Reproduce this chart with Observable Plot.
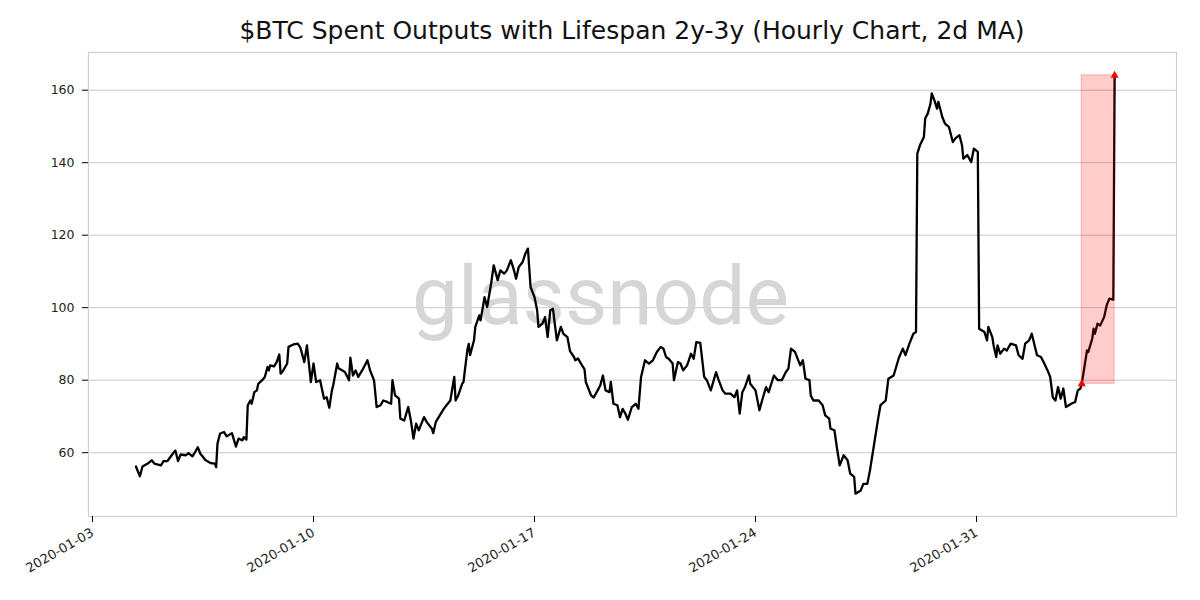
<!DOCTYPE html>
<html><head><meta charset="utf-8">
<script src="https://cdn.jsdelivr.net/npm/d3@7"></script>
<script src="https://cdn.jsdelivr.net/npm/@observablehq/plot@0.6"></script>
<style>
body{margin:0;background:#fff;width:1200px;height:600px;overflow:hidden;font-family:"DejaVu Sans",sans-serif}
#title{position:absolute;top:0;left:0;width:1200px;height:44px;box-sizing:border-box;padding-left:64px;padding-top:16px;text-align:center;font-size:25px;line-height:normal;color:#111;white-space:nowrap}
#chart{position:absolute;top:44px;left:0}
</style></head>
<body>
<div id="title">$BTC Spent Outputs with Lifespan 2y-3y (Hourly Chart, 2d MA)</div>
<div id="chart"></div>
<script>
const times = [
"01-04 09","01-04 12","01-04 14","01-04 18","01-04 21","01-04 23","01-05 04","01-05 06","01-05 09","01-05 13",
"01-05 15","01-05 17","01-05 19","01-05 23","01-06 01","01-06 04","01-06 06","01-06 08","01-06 10","01-06 14",
"01-06 18","01-06 21","01-06 22","01-06 23","01-07 01","01-07 04","01-07 06","01-07 10","01-07 13","01-07 15",
"01-07 18","01-07 19","01-07 21","01-07 22","01-08 00","01-08 01","01-08 03","01-08 05","01-08 06","01-08 09",
"01-08 11","01-08 13","01-08 14","01-08 15","01-08 18","01-08 20","01-08 22","01-08 23","01-09 01","01-09 04",
"01-09 05","01-09 09","01-09 12","01-09 14","01-09 17","01-09 19","01-09 22","01-10 00","01-10 02","01-10 05",
"01-10 08","01-10 10","01-10 12","01-10 14","01-10 15","01-10 18","01-10 19","01-10 22","01-11 00","01-11 03",
"01-11 04","01-11 06","01-11 08","01-11 10","01-11 13","01-11 17","01-11 19","01-11 22","01-12 00","01-12 03",
"01-12 05","01-12 08","01-12 11","01-12 12","01-12 14","01-12 17","01-12 18","01-12 21","01-13 00","01-13 02",
"01-13 04","01-13 06","01-13 08","01-13 11","01-13 12","01-13 14","01-13 18","01-13 19","01-13 21","01-14 00",
"01-14 03","01-14 06","01-14 08","01-14 11","01-14 12","01-14 14","01-14 17","01-14 18","01-14 21","01-14 22",
"01-14 23","01-15 02","01-15 03","01-15 06","01-15 07","01-15 10","01-15 12","01-15 15","01-15 17","01-15 20",
"01-15 22","01-16 01","01-16 03","01-16 06","01-16 08","01-16 10","01-16 12","01-16 15","01-16 17","01-16 19",
"01-16 21","01-17 00","01-17 02","01-17 03","01-17 06","01-17 08","01-17 10","01-17 12","01-17 14","01-17 17",
"01-17 20","01-17 22","01-18 01","01-18 03","01-18 06","01-18 07","01-18 09","01-18 11","01-18 14","01-18 15",
"01-18 19","01-18 21","01-19 00","01-19 02","01-19 04","01-19 06","01-19 09","01-19 10","01-19 12","01-19 15",
"01-19 17","01-19 19","01-19 21","01-19 23","01-20 02","01-20 05","01-20 07","01-20 09","01-20 12","01-20 15",
"01-20 18","01-20 21","01-21 00","01-21 02","01-21 04","01-21 06","01-21 09","01-21 10","01-21 13","01-21 15",
"01-21 17","01-21 20","01-21 23","01-22 01","01-22 03","01-22 06","01-22 09","01-22 11","01-22 14","01-22 18",
"01-22 20","01-22 23","01-23 01","01-23 05","01-23 08","01-23 10","01-23 12","01-23 14","01-23 16","01-23 19",
"01-23 20","01-24 00","01-24 03","01-24 05","01-24 08","01-24 10","01-24 14","01-24 17","01-24 20","01-24 23",
"01-25 01","01-25 03","01-25 06","01-25 10","01-25 12","01-25 14","01-25 17","01-25 18","01-25 20","01-26 00",
"01-26 03","01-26 05","01-26 08","01-26 09","01-26 12","01-26 14","01-26 16","01-26 19","01-26 22","01-27 00",
"01-27 03","01-27 04","01-27 08","01-27 10","01-27 13","01-27 15","01-27 18","01-27 21","01-27 23","01-28 03",
"01-28 05","01-28 09","01-28 13","01-28 16","01-28 18","01-28 21","01-29 00","01-29 02","01-29 03","01-29 05",
"01-29 08","01-29 09","01-29 11","01-29 13","01-29 14","01-29 16","01-29 18","01-29 19","01-29 22","01-30 00",
"01-30 03","01-30 06","01-30 08","01-30 11","01-30 13","01-30 14","01-30 17","01-30 20","01-30 22","01-31 01",
"01-31 02","01-31 06","01-31 08","01-31 09","01-31 12","01-31 13","01-31 15","01-31 16","01-31 18","01-31 21",
"01-31 23","02-01 02","02-01 06","02-01 08","02-01 11","02-01 13","02-01 16","02-01 18","02-01 22","02-02 01",
"02-02 03","02-02 06","02-02 08","02-02 10","02-02 12","02-02 14","02-02 16","02-02 18","02-02 20","02-03 00",
"02-03 03","02-03 05","02-03 07","02-03 08","02-03 12","02-03 13","02-03 16","02-03 17","02-03 18","02-03 20",
"02-03 22","02-04 01","02-04 03","02-04 05","02-04 08","02-04 09"
];
const values = [
56.2,53.5,56.2,57.0,57.9,57.0,56.5,57.7,57.7,59.7,
60.6,57.7,59.5,59.3,59.9,59.0,60.2,61.5,59.7,57.9,
57.1,57.0,56.0,62.5,65.3,65.7,64.5,65.4,61.7,63.9,
63.4,64.3,63.6,73.1,74.4,73.5,76.7,77.2,79.0,80.0,
80.9,83.6,82.7,84.1,83.8,85.0,87.1,81.8,82.7,84.6,
89.2,89.9,90.1,89.0,85.0,89.6,79.5,84.6,79.5,80.0,
74.9,75.3,72.4,77.2,78.6,84.6,83.3,82.7,82.2,80.0,
86.2,81.3,82.7,80.9,82.7,85.5,82.7,80.0,72.6,73.1,
74.4,74.0,73.5,80.0,75.8,74.9,69.4,68.9,72.6,68.9,
63.9,68.0,66.2,68.9,69.8,68.5,66.6,65.4,68.5,70.3,
72.1,73.5,74.4,80.9,74.4,75.8,79.0,79.5,88.5,90.0,
86.9,91.0,94.7,97.9,96.5,102.9,100.2,106.6,111.7,107.6,
110.3,109.4,110.3,113.1,110.8,108.0,111.2,112.6,114.9,116.3,
105.7,102.9,99.3,94.7,95.6,97.4,91.9,99.3,99.7,91.0,
94.7,92.8,91.9,88.0,86.4,85.5,86.0,84.8,83.0,79.5,
75.8,75.2,77.2,78.6,81.3,77.2,76.7,79.5,73.5,73.1,
69.8,72.1,70.8,69.1,72.6,73.5,72.1,80.9,85.5,84.6,
85.5,87.8,89.2,88.7,86.4,85.9,84.6,80.0,85.0,84.6,
82.7,84.1,87.3,85.9,90.5,90.3,80.9,80.0,77.2,82.2,
80.0,77.2,76.3,76.3,75.3,77.2,70.8,76.7,78.1,81.3,
79.0,77.2,71.7,74.4,78.1,76.7,81.3,80.0,80.0,82.2,
83.2,88.7,87.8,84.1,85.5,80.4,80.0,75.8,74.4,74.4,
73.1,70.3,69.4,66.6,66.2,61.1,56.5,59.3,57.9,54.2,
53.3,48.7,49.6,51.4,51.4,55.1,62.0,68.9,73.1,74.4,
80.4,81.3,86.2,88.7,86.9,90.1,92.8,93.3,142.5,144.8,
147.1,152.2,153.6,156.3,159.1,157.2,154.9,156.8,152.6,150.8,
149.9,145.7,146.7,147.6,144.8,141.1,142.1,140.2,143.9,143.0,
94.2,93.3,91.0,94.7,91.9,89.6,86.4,89.6,87.3,88.7,
88.2,90.1,89.6,86.9,85.9,90.1,91.0,92.8,86.9,86.4,
85.0,82.7,80.9,75.3,74.4,78.1,74.9,77.7,72.6,73.5,
74.0,77.2,77.7,79.0,88.2,87.8,91.5,94.2,92.8,95.6,
95.1,97.4,100.7,102.5,102.2,164.1
];
const xTickLabels = ["2020-01-03","2020-01-10","2020-01-17","2020-01-24","2020-01-31"];
const yTicks = [60,80,100,120,140,160];
const highlightTimes = ["02-03 08","02-04 09"];

const parse = d3.utcParse("%Y-%m-%d %H");
const toDate = t => parse("2020-" + t);
const data = times.map((t,i) => ({date: toDate(t), value: values[i]}));
const hl = highlightTimes.map(t => data.find(d => +d.date === +toDate(t)));
const xTicks = xTickLabels.map(s => d3.utcParse("%Y-%m-%d")(s));

const chart = Plot.plot({
  width: 1200, height: 556,
  marginTop: 8, marginBottom: 84, marginLeft: 88, marginRight: 24,
  style: {fontFamily: "'DejaVu Sans', sans-serif", fontSize: "12px", color: "#222", background: "#fff", overflow: "visible"},
  x: {type: "utc", domain: [new Date(Date.UTC(2020,0,2,20,57)), new Date(Date.UTC(2020,1,6,8,2))]},
  y: {domain: [42.4, 170.4]},
  marks: [
    Plot.gridY(yTicks, {stroke: "#c8c8c8", strokeOpacity: 1, strokeWidth: 1}),
    Plot.frame({stroke: "#cfcfcf", strokeWidth: 1.2}),
    Plot.text(["glassnode"], {frameAnchor: "middle", dx: -32, dy: 13, text: d => d, fontSize: 82, fontFamily: "Roboto, sans-serif", fill: "#d6d6d6"}),
    Plot.line(data, {x: "date", y: "value", stroke: "#000", strokeWidth: 2.3, strokeLinejoin: "round"}),
    Plot.rect([hl], {x1: d => d[0].date, x2: d => d[1].date, y1: d => d[0].value, y2: d => d[1].value, fill: "#ff0000", fillOpacity: 0.2, stroke: "#ff0000", strokeOpacity: 0.25}),
    Plot.dot(hl, {x: "date", y: "value", fill: "#ff0000", r: 3, symbol: "triangle"}),
    Plot.axisY(yTicks, {tickSize: 6, tickPadding: 8, tickFormat: d => String(d), label: null, stroke: "#000", fontSize: 12.5}),
    Plot.axisX(xTicks, {tickSize: 6, tickPadding: 9, tickRotate: -30, tickFormat: d3.utcFormat("%Y-%m-%d"), label: null, stroke: "#000", fontSize: 13})
  ]
});
document.getElementById("chart").appendChild(chart);
</script>
</body></html>
